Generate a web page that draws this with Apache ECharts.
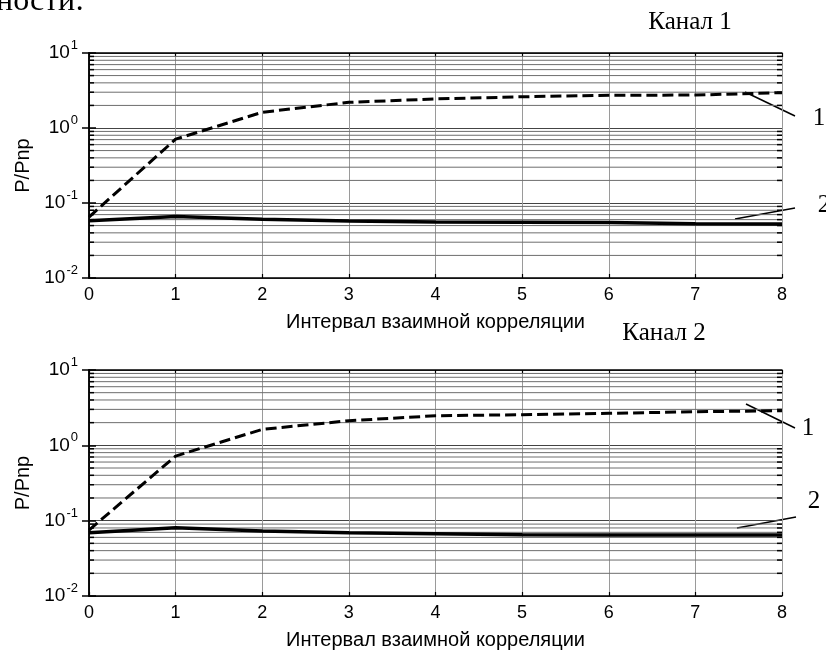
<!DOCTYPE html>
<html>
<head>
<meta charset="utf-8">
<script src="https://cdn.jsdelivr.net/npm/echarts@6/dist/echarts.min.js"></script>
<style>
  html, body { margin: 0; padding: 0; background: #fff; }
  #chart { width: 826px; height: 653px; }
</style>
</head>
<body>
<div id="chart"></div>
<script>
// Correlation interval (x) values
const intervals = [0, 1, 2, 3, 4, 5, 6, 7, 8];

// Channel 1: curve 1 (dashed) and curve 2 (solid), P/Pnp
const ch1Curve1 = [0.065, 0.71, 1.62, 2.2, 2.44, 2.61, 2.73, 2.75, 2.96];
const ch1Curve2 = [0.058, 0.066, 0.0606, 0.0575, 0.056, 0.0555, 0.055, 0.053, 0.0525];

// Channel 2: curve 1 (dashed) and curve 2 (solid), P/Pnp
const ch2Curve1 = [0.075, 0.72, 1.63, 2.12, 2.47, 2.55, 2.66, 2.79, 2.88];
const ch2Curve2 = [0.069, 0.0805, 0.0728, 0.069, 0.067, 0.065, 0.0644, 0.0644, 0.0644];

// Minor grid values inside each decade of the log axis
const yMinor = [];
[0.01, 0.1, 1].forEach(d => { for (let k = 2; k <= 9; k++) yMinor.push(+(d * k).toPrecision(3)); });

const sansFont = 'Liberation Sans, Arial, sans-serif';
const serifFont = 'Liberation Serif, Times New Roman, serif';

const chart = echarts.init(document.getElementById('chart'), null, { renderer: 'canvas' });

const grids = [
  { left: 89, top: 53, width: 693, height: 225 },
  { left: 89, top: 370, width: 693, height: 226 }
];

function xAxes(gi) {
  return [
    {
      type: 'value', gridIndex: gi, position: 'bottom', min: 0, max: 8, interval: 1,
      name: 'Интервал взаимной корреляции', nameLocation: 'middle', nameGap: 34,
      nameTextStyle: { fontFamily: sansFont, fontSize: 20, color: '#000' },
      axisLine: { lineStyle: { color: '#000', width: 1.5 } },
      axisTick: { inside: true, length: 4, lineStyle: { color: '#000', width: 1.2 } },
      axisLabel: { fontFamily: sansFont, fontSize: 18, color: '#000', margin: 8 },
      splitLine: { show: true, lineStyle: { color: '#9a9a9a', width: 1, type: 'solid' } }
    },
    {
      type: 'value', gridIndex: gi, position: 'top', min: 0, max: 8, interval: 1,
      axisLine: { lineStyle: { color: '#000', width: 1.5 } },
      axisTick: { inside: true, length: 4, lineStyle: { color: '#000', width: 1.2 } },
      axisLabel: { show: false },
      splitLine: { show: false }
    }
  ];
}

function yAxes(gi) {
  return [
    {
      type: 'log', logBase: 10, gridIndex: gi, position: 'left', min: 0.01, max: 10,
      name: 'P/Pnp', nameLocation: 'middle', nameGap: 55,
      nameTextStyle: { fontFamily: sansFont, fontSize: 20, color: '#000' },
      axisLine: { lineStyle: { color: '#000', width: 1.5 } },
      axisTick: { inside: true, length: 7, lineStyle: { color: '#000', width: 1.5 } },
      axisLabel: {
        margin: 11,
        fontSize: 19,
        formatter: v => '{b|10}{s|' + Math.round(Math.log10(v)) + '}',
        rich: {
          b: { fontFamily: sansFont, fontSize: 19, color: '#000' },
          s: { fontFamily: sansFont, fontSize: 13, color: '#000', padding: [0, 0, 15, 1] }
        }
      },
      splitLine: { show: true, lineStyle: { color: '#444', width: 1 } }
    },
    {
      type: 'log', logBase: 10, gridIndex: gi, position: 'right', min: 0.01, max: 10,
      axisLine: { lineStyle: { color: '#000', width: 1.5 } },
      axisTick: { inside: true, length: 7, lineStyle: { color: '#000', width: 1.5 } },
      axisLabel: { show: false },
      splitLine: { show: false }
    }
  ];
}

// Minor horizontal grid lines plus the inward minor ticks on both sides
function minorGrid(xi, yi) {
  return {
    type: 'custom', xAxisIndex: xi, yAxisIndex: yi, silent: true, z: 1,
    data: yMinor.map(v => [0, v]),
    renderItem: (params, api) => {
      const v = api.value(1);
      const a = api.coord([0, v]);
      const b = api.coord([8, v]);
      return {
        type: 'group',
        children: [
          { type: 'line', shape: { x1: a[0], y1: a[1], x2: b[0], y2: b[1] }, style: { stroke: '#6e6e6e', lineWidth: 1 } },
          { type: 'line', shape: { x1: a[0], y1: a[1], x2: a[0] + 5, y2: a[1] }, style: { stroke: '#000', lineWidth: 1.5 } },
          { type: 'line', shape: { x1: b[0] - 5, y1: b[1], x2: b[0], y2: b[1] }, style: { stroke: '#000', lineWidth: 1.5 } }
        ]
      };
    }
  };
}

function curve(xi, yi, values, dashed) {
  return {
    type: 'line', xAxisIndex: xi, yAxisIndex: yi, z: 5,
    data: intervals.map((x, i) => [x, values[i]]),
    symbol: 'none', smooth: false,
    lineStyle: dashed
      ? { color: '#000', width: 3, type: [11, 5] }
      : { color: '#000', width: 3.5, type: 'solid' }
  };
}

const option = {
  backgroundColor: '#fff',
  animation: false,
  grid: grids,
  xAxis: [...xAxes(0), ...xAxes(1)],
  yAxis: [...yAxes(0), ...yAxes(1)],
  series: [
    minorGrid(0, 0),
    minorGrid(2, 2),
    curve(0, 0, ch1Curve1, true),
    curve(0, 0, ch1Curve2, false),
    curve(2, 2, ch2Curve1, true),
    curve(2, 2, ch2Curve2, false)
  ],
  graphic: [
    // tail of the preceding paragraph
    { type: 'text', left: -4, top: -14, style: { text: 'ности:', font: '32px ' + serifFont, fill: '#000' } },
    // panel captions
    { type: 'text', x: 690, y: 22, style: { text: 'Канал 1', font: '25px ' + serifFont, fill: '#000', align: 'center', verticalAlign: 'middle' } },
    { type: 'text', x: 664, y: 333, style: { text: 'Канал 2', font: '25px ' + serifFont, fill: '#000', align: 'center', verticalAlign: 'middle' } },
    // curve callouts, channel 1
    { type: 'line', shape: { x1: 745, y1: 92, x2: 795, y2: 116 }, style: { stroke: '#000', lineWidth: 1.5 } },
    { type: 'text', x: 819, y: 118, style: { text: '1', font: '25px ' + serifFont, fill: '#000', align: 'center', verticalAlign: 'middle' } },
    { type: 'line', shape: { x1: 735, y1: 219, x2: 795, y2: 208 }, style: { stroke: '#000', lineWidth: 1.5 } },
    { type: 'text', x: 824, y: 205, style: { text: '2', font: '25px ' + serifFont, fill: '#000', align: 'center', verticalAlign: 'middle' } },
    // curve callouts, channel 2
    { type: 'line', shape: { x1: 746, y1: 404, x2: 795, y2: 428 }, style: { stroke: '#000', lineWidth: 1.5 } },
    { type: 'text', x: 808, y: 428, style: { text: '1', font: '25px ' + serifFont, fill: '#000', align: 'center', verticalAlign: 'middle' } },
    { type: 'line', shape: { x1: 737, y1: 528, x2: 796, y2: 517 }, style: { stroke: '#000', lineWidth: 1.5 } },
    { type: 'text', x: 814, y: 501, style: { text: '2', font: '25px ' + serifFont, fill: '#000', align: 'center', verticalAlign: 'middle' } }
  ]
};

chart.setOption(option);
</script>
</body>
</html>
